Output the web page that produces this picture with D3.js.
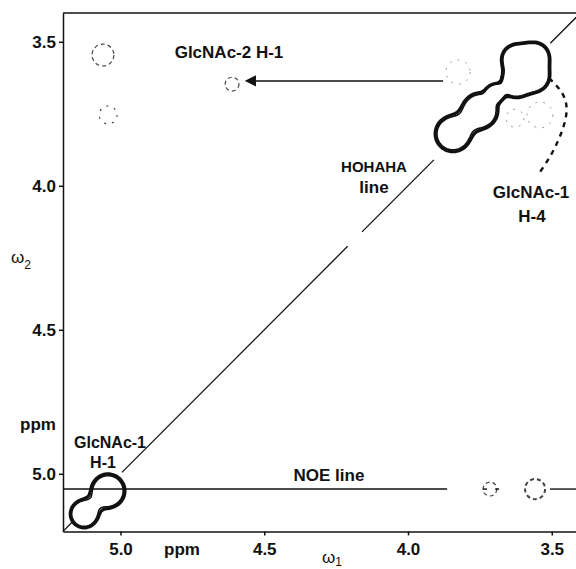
<!DOCTYPE html>
<html>
<head>
<meta charset="utf-8">
<script src="https://cdn.jsdelivr.net/npm/d3@7"></script>
<style>
  body { margin: 0; background: #fff; }
  text { font-family: "Liberation Sans", Arial, sans-serif; font-weight: bold; fill: #111; }
</style>
</head>
<body>
<div id="chart"></div>
<script>
let width = 576, height = 569;

// axis ticks (ppm)
let xTicks = [5.0, 4.5, 4.0, 3.5];
let yTicks = [3.5, 4.0, 4.5, 5.0];

// strong cross/diagonal peaks (omega1 ppm, omega2 ppm, width ppm)
let peakX = [5.047, 5.130, 3.847, 3.753, 3.701, 3.628, 3.628, 3.562, 3.562];
let peakY = [5.056, 5.136, 3.816, 3.736, 3.674, 3.640, 3.556, 3.549, 3.619];
let peakW = [0.038, 0.031, 0.040, 0.040, 0.018, 0.032, 0.032, 0.032, 0.032];

// weak peaks drawn as dashed rings
let weakX = [5.061, 5.043, 4.612, 3.558, 3.715, 3.826, 3.541, 3.628];
let weakY = [3.546, 3.754, 3.647, 5.053, 5.053, 3.605, 3.754, 3.765];
let weakR = [0.038, 0.031, 0.024, 0.035, 0.024, 0.042, 0.045, 0.031];

// diagonal (HOHAHA line) pieces, omega1 from -> to
let diagFrom = [5.20, 4.995, 4.16, 3.505];
let diagTo = [5.165, 4.21, 3.91, 3.40];

// NOE line pieces at omega2 = noeY
let noeY = 5.053;
let noeFrom = [5.20, 3.739, 3.697, 3.506];
let noeTo = [3.864, 3.725, 3.683, 3.40];

// arrow to GlcNAc-2 H-1
let arrowY = 3.636, arrowFrom = 3.878, arrowTo = 4.56;

// dashed pointer for GlcNAc-1 H-4
let pointerX = [3.509, 3.457, 3.443, 3.461, 3.492, 3.520, 3.548];
let pointerY = [3.626, 3.678, 3.737, 3.806, 3.876, 3.921, 3.963];

let x = d3.scaleLinear().domain([5.2, 3.4]).range([63, 580.5]);
let y = d3.scaleLinear().domain([3.4, 5.2]).range([13, 531.4]);

let svg = d3.select('#chart')
    .append('svg')
    .attr('width', width)
    .attr('height', height);

// contours of the strong peaks
let step = 2;
let nx = Math.ceil(width / step), ny = Math.ceil(height / step);
let values = new Array(nx * ny);
for (let j = 0; j < ny; j++) {
    for (let i = 0; i < nx; i++) {
        let px = x.invert(i * step), py = y.invert(j * step);
        let v = 0;
        for (let k = 0; k < peakX.length; k++) {
            let dx = px - peakX[k], dy = py - peakY[k];
            v += Math.exp(-(dx * dx + dy * dy) / (2 * peakW[k] * peakW[k]));
        }
        values[j * nx + i] = v;
    }
}
let contours = d3.contours().size([nx, ny]).thresholds([0.3, 0.38])(values);
let path = d3.geoPath(d3.geoIdentity().scale(step));
svg.append('g')
    .selectAll('path')
    .data(contours)
    .enter()
    .append('path')
    .attr('d', path)
    .attr('fill', 'none')
    .attr('stroke', '#111')
    .attr('stroke-width', (d, i) => i === 0 ? 3.2 : 1.6)
    .attr('stroke-linejoin', 'round');

// weak peaks
svg.append('g')
    .selectAll('ellipse')
    .data(weakX)
    .enter()
    .append('ellipse')
    .attr('cx', (d) => x(d))
    .attr('cy', (d, i) => y(weakY[i]))
    .attr('rx', (d, i) => x(5.2 - weakR[i]) - x(5.2))
    .attr('ry', (d, i) => y(3.4 + weakR[i]) - y(3.4))
    .attr('fill', 'none')
    .attr('stroke', (d, i) => i >= 5 ? '#999' : '#444')
    .attr('stroke-width', (d, i) => i === 3 ? 2 : (i >= 5 ? 1 : 1.2))
    .attr('stroke-dasharray', (d, i) => i === 1 || i >= 5 ? '2,6' : '4,3');

// diagonal
svg.append('g')
    .selectAll('line')
    .data(diagFrom)
    .enter()
    .append('line')
    .attr('x1', (d) => x(d))
    .attr('y1', (d) => y(d))
    .attr('x2', (d, i) => x(diagTo[i]))
    .attr('y2', (d, i) => y(diagTo[i]))
    .attr('stroke', '#111')
    .attr('stroke-width', 1.3);

// NOE line
svg.append('g')
    .selectAll('line')
    .data(noeFrom)
    .enter()
    .append('line')
    .attr('x1', (d) => x(d))
    .attr('x2', (d, i) => x(noeTo[i]))
    .attr('y1', y(noeY))
    .attr('y2', y(noeY))
    .attr('stroke', '#111')
    .attr('stroke-width', 1.4);

// arrow
svg.append('defs')
    .append('marker')
    .attr('id', 'head')
    .attr('viewBox', '0 0 10 10')
    .attr('refX', 8).attr('refY', 5)
    .attr('markerWidth', 7).attr('markerHeight', 7)
    .attr('orient', 'auto')
    .append('path')
    .attr('d', 'M0,0L10,5L0,10z')
    .attr('fill', '#111');
svg.append('line')
    .attr('x1', x(arrowFrom)).attr('x2', x(arrowTo))
    .attr('y1', y(arrowY)).attr('y2', y(arrowY))
    .attr('stroke', '#111')
    .attr('stroke-width', 1.6)
    .attr('marker-end', 'url(#head)');

// dashed pointer
let pointer = d3.line().curve(d3.curveBasis)
    .x((d) => x(d))
    .y((d, i) => y(pointerY[i]));
svg.append('path')
    .attr('d', pointer(pointerX))
    .attr('fill', 'none')
    .attr('stroke', '#111')
    .attr('stroke-width', 2.4)
    .attr('stroke-dasharray', '5,5');

// frame and axes
let xAxis = d3.axisBottom(x).tickValues(xTicks).tickFormat(d3.format('.1f'))
    .tickSize(4).tickSizeOuter(0).tickPadding(8);
let yAxis = d3.axisLeft(y).tickValues(yTicks).tickFormat(d3.format('.1f'))
    .tickSize(4).tickSizeOuter(0).tickPadding(3);
let gx = svg.append('g').attr('transform', 'translate(0,' + y(5.2) + ')').call(xAxis);
let gy = svg.append('g').attr('transform', 'translate(' + x(5.2) + ',0)').call(yAxis);
[gx, gy].forEach((g) => {
    g.select('.domain').attr('stroke', '#111').attr('stroke-width', 1.5);
    g.selectAll('.tick line').attr('stroke', '#111').attr('stroke-width', 1.5);
    g.selectAll('.tick text')
        .attr('fill', '#111')
        .style('font-family', '"Liberation Sans", Arial, sans-serif')
        .style('font-weight', 'bold')
        .style('font-size', '17px');
});
svg.append('line')
    .attr('x1', x(5.2)).attr('x2', width)
    .attr('y1', y(3.4)).attr('y2', y(3.4))
    .attr('stroke', '#111')
    .attr('stroke-width', 1.5);

// labels
let labels = [
    ['GlcNAc-2 H-1', 229, 58, 17],
    ['HOHAHA', 374, 172, 15],
    ['line', 374, 193, 17],
    ['GlcNAc-1', 531, 198, 17],
    ['H-4', 532, 222, 17],
    ['GlcNAc-1', 110, 448, 16],
    ['H-1', 103, 468, 16],
    ['NOE line', 329, 481, 17],
    ['ppm', 38, 430, 17],
    ['ppm', 182, 555, 17]
];
svg.append('g')
    .selectAll('text')
    .data(labels)
    .enter()
    .append('text')
    .attr('x', (d) => d[1])
    .attr('y', (d) => d[2])
    .attr('text-anchor', 'middle')
    .style('font-size', (d) => d[3] + 'px')
    .text((d) => d[0]);

// omega axis names
let w2 = svg.append('text').attr('x', 11).attr('y', 263).style('font-size', '17px').style('font-weight', 'normal');
w2.append('tspan').text('\u03c9');
w2.append('tspan').attr('dy', 6).style('font-size', '12px').text('2');
let w1 = svg.append('text').attr('x', 322).attr('y', 563).style('font-size', '17px').style('font-weight', 'normal');
w1.append('tspan').text('\u03c9');
w1.append('tspan').attr('dy', 3).style('font-size', '12px').text('1');
</script>
</body>
</html>
